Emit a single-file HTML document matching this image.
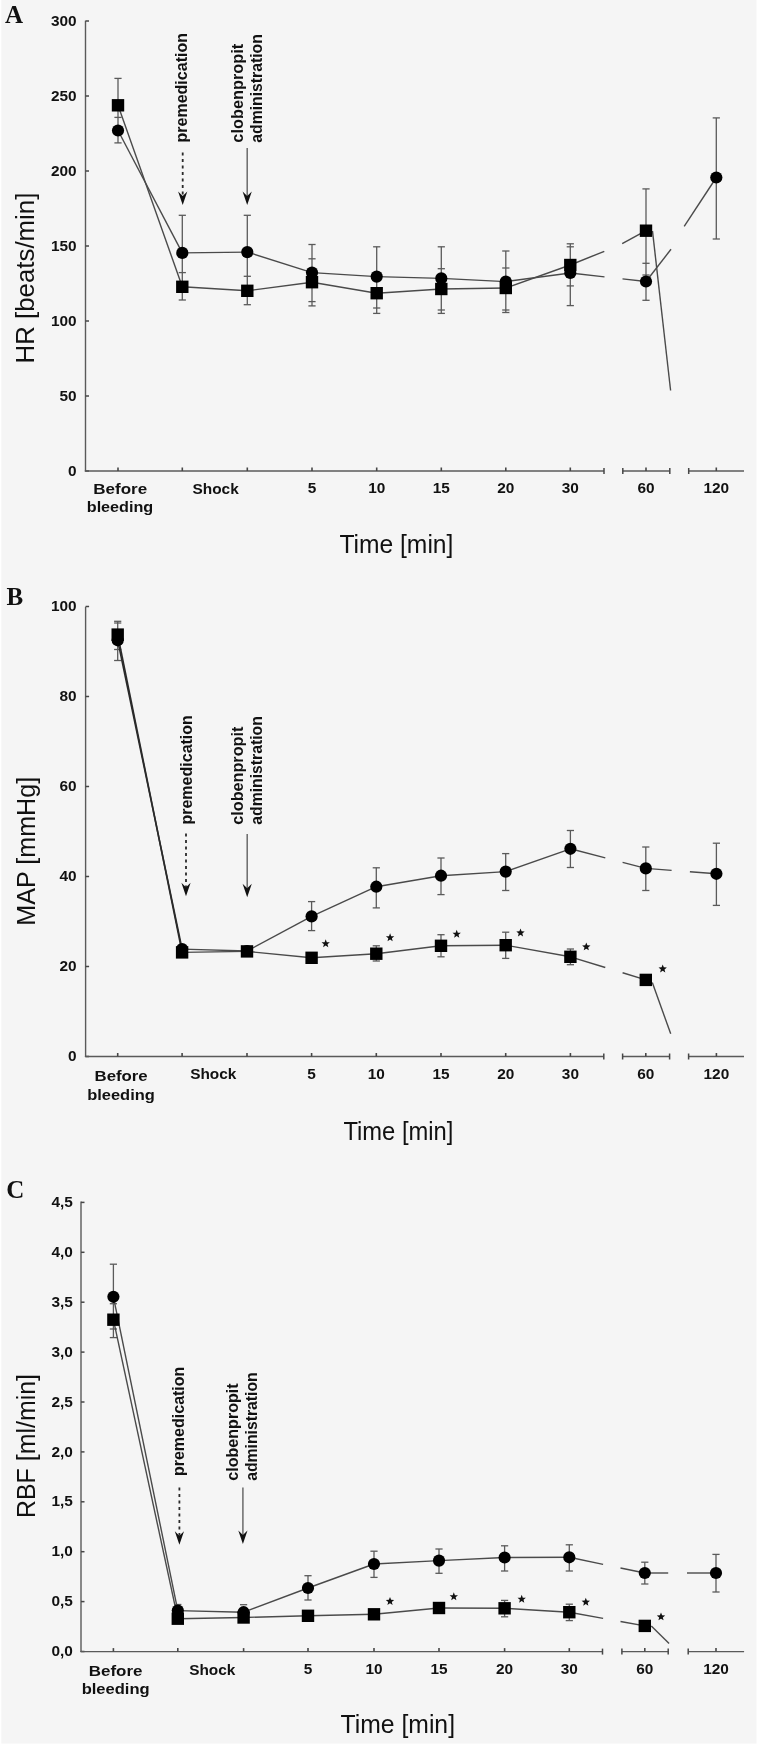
<!DOCTYPE html>
<html><head><meta charset="utf-8"><title>Figure</title>
<style>
html,body{margin:0;padding:0;background:#ffffff;}
body{width:760px;height:1746px;overflow:hidden;}
svg{display:block;will-change:transform;}
.tk{font-family:"Liberation Sans",sans-serif;font-weight:bold;font-size:15.4px;fill:#111111;}
.ttl{font-family:"Liberation Sans",sans-serif;font-size:25px;fill:#111111;}
.ann{font-family:"Liberation Sans",sans-serif;font-weight:bold;font-size:16.6px;fill:#111111;}
.ltr{font-family:"Liberation Serif",serif;font-weight:bold;font-size:25px;fill:#111111;}
.star{font-family:"Liberation Sans",sans-serif;font-weight:bold;font-size:17px;fill:#111111;}
</style></head>
<body>
<svg width="760" height="1746" viewBox="0 0 760 1746">
<rect x="0" y="0" width="760" height="1746" fill="#ffffff"/>
<rect x="1.3" y="0" width="755.2" height="1743.6" fill="#f5f5f5"/>
<line x1="85.50" y1="20.80" x2="85.50" y2="471.50" stroke="#5a5a5a" stroke-width="1.4" />
<line x1="85.50" y1="471.00" x2="89.00" y2="471.00" stroke="#474747" stroke-width="1.5" />
<text x="76.6" y="475.60" text-anchor="end" class="tk">0</text>
<line x1="85.50" y1="396.00" x2="89.00" y2="396.00" stroke="#474747" stroke-width="1.5" />
<text x="76.6" y="400.60" text-anchor="end" class="tk">50</text>
<line x1="85.50" y1="321.00" x2="89.00" y2="321.00" stroke="#474747" stroke-width="1.5" />
<text x="76.6" y="325.60" text-anchor="end" class="tk">100</text>
<line x1="85.50" y1="246.00" x2="89.00" y2="246.00" stroke="#474747" stroke-width="1.5" />
<text x="76.6" y="250.60" text-anchor="end" class="tk">150</text>
<line x1="85.50" y1="171.00" x2="89.00" y2="171.00" stroke="#474747" stroke-width="1.5" />
<text x="76.6" y="175.60" text-anchor="end" class="tk">200</text>
<line x1="85.50" y1="96.00" x2="89.00" y2="96.00" stroke="#474747" stroke-width="1.5" />
<text x="76.6" y="100.60" text-anchor="end" class="tk">250</text>
<line x1="85.50" y1="21.00" x2="89.00" y2="21.00" stroke="#474747" stroke-width="1.5" />
<text x="76.6" y="25.60" text-anchor="end" class="tk">300</text>
<line x1="84.80" y1="471.00" x2="604.00" y2="471.00" stroke="#5a5a5a" stroke-width="1.4" />
<line x1="604.00" y1="468.00" x2="604.00" y2="474.00" stroke="#474747" stroke-width="1.5" />
<line x1="622.80" y1="471.00" x2="669.80" y2="471.00" stroke="#5a5a5a" stroke-width="1.4" />
<line x1="622.80" y1="468.00" x2="622.80" y2="474.00" stroke="#474747" stroke-width="1.5" />
<line x1="669.80" y1="468.00" x2="669.80" y2="474.00" stroke="#474747" stroke-width="1.5" />
<line x1="688.70" y1="471.00" x2="744.00" y2="471.00" stroke="#5a5a5a" stroke-width="1.4" />
<line x1="688.70" y1="468.00" x2="688.70" y2="474.00" stroke="#474747" stroke-width="1.5" />
<line x1="118.00" y1="471.00" x2="118.00" y2="467.50" stroke="#474747" stroke-width="1.6" />
<line x1="182.30" y1="471.00" x2="182.30" y2="467.50" stroke="#474747" stroke-width="1.6" />
<line x1="247.30" y1="471.00" x2="247.30" y2="467.50" stroke="#474747" stroke-width="1.6" />
<line x1="312.00" y1="471.00" x2="312.00" y2="467.50" stroke="#474747" stroke-width="1.6" />
<line x1="376.70" y1="471.00" x2="376.70" y2="467.50" stroke="#474747" stroke-width="1.6" />
<line x1="441.30" y1="471.00" x2="441.30" y2="467.50" stroke="#474747" stroke-width="1.6" />
<line x1="505.80" y1="471.00" x2="505.80" y2="467.50" stroke="#474747" stroke-width="1.6" />
<line x1="570.30" y1="471.00" x2="570.30" y2="467.50" stroke="#474747" stroke-width="1.6" />
<line x1="646.00" y1="471.00" x2="646.00" y2="467.50" stroke="#474747" stroke-width="1.6" />
<line x1="716.30" y1="471.00" x2="716.30" y2="467.50" stroke="#474747" stroke-width="1.6" />
<text x="312.00" y="493.10" text-anchor="middle" class="tk">5</text>
<text x="376.70" y="493.10" text-anchor="middle" class="tk">10</text>
<text x="441.30" y="493.10" text-anchor="middle" class="tk">15</text>
<text x="505.80" y="493.10" text-anchor="middle" class="tk">20</text>
<text x="570.30" y="493.10" text-anchor="middle" class="tk">30</text>
<text x="646.00" y="493.10" text-anchor="middle" class="tk">60</text>
<text x="716.30" y="493.10" text-anchor="middle" class="tk">120</text>
<text x="120.25" y="494.00" text-anchor="middle" class="tk" textLength="53.9" lengthAdjust="spacingAndGlyphs">Before</text>
<text x="120.00" y="512.40" text-anchor="middle" class="tk" textLength="66.5" lengthAdjust="spacingAndGlyphs">bleeding</text>
<text x="215.60" y="493.70" text-anchor="middle" class="tk">Shock</text>
<text x="339.40" y="552.80" class="ttl" textLength="114" lengthAdjust="spacingAndGlyphs">Time [min]</text>
<text transform="translate(34.20,363.50) rotate(-90)" class="ttl" textLength="170.9" lengthAdjust="spacingAndGlyphs">HR [beats/min]</text>
<text x="4.9" y="23.2" class="ltr">A</text>
<text transform="translate(187.40,142.50) rotate(-90)" class="ann" textLength="109.5" lengthAdjust="spacingAndGlyphs">premedication</text>
<text transform="translate(242.50,142.70) rotate(-90)" class="ann" textLength="99" lengthAdjust="spacingAndGlyphs">clobenpropit</text>
<text transform="translate(262.30,142.70) rotate(-90)" class="ann" textLength="108.5" lengthAdjust="spacingAndGlyphs">administration</text>
<line x1="182.70" y1="152.50" x2="182.70" y2="196.00" stroke="#2a2a2a" stroke-width="1.8" stroke-dasharray="3 3.5"/>
<path d="M182.70,205.00 L178.10,191.50 L182.70,196.00 L187.30,191.50 Z" fill="#111"/>
<line x1="247.20" y1="148.00" x2="247.20" y2="196.00" stroke="#6a6a6a" stroke-width="1.5" />
<path d="M247.20,205.00 L242.60,191.50 L247.20,196.00 L251.80,191.50 Z" fill="#111"/>
<line x1="118.00" y1="78.40" x2="118.00" y2="142.90" stroke="#5a5a5a" stroke-width="1.3" />
<line x1="114.40" y1="78.40" x2="121.60" y2="78.40" stroke="#5a5a5a" stroke-width="1.3" />
<line x1="114.40" y1="117.40" x2="121.60" y2="117.40" stroke="#5a5a5a" stroke-width="1.3" />
<line x1="114.40" y1="142.90" x2="121.60" y2="142.90" stroke="#5a5a5a" stroke-width="1.3" />
<line x1="182.30" y1="215.30" x2="182.30" y2="300.00" stroke="#5a5a5a" stroke-width="1.3" />
<line x1="178.70" y1="215.30" x2="185.90" y2="215.30" stroke="#5a5a5a" stroke-width="1.3" />
<line x1="178.70" y1="272.60" x2="185.90" y2="272.60" stroke="#5a5a5a" stroke-width="1.3" />
<line x1="178.70" y1="300.00" x2="185.90" y2="300.00" stroke="#5a5a5a" stroke-width="1.3" />
<line x1="247.30" y1="215.30" x2="247.30" y2="304.70" stroke="#5a5a5a" stroke-width="1.3" />
<line x1="243.70" y1="215.30" x2="250.90" y2="215.30" stroke="#5a5a5a" stroke-width="1.3" />
<line x1="243.70" y1="276.30" x2="250.90" y2="276.30" stroke="#5a5a5a" stroke-width="1.3" />
<line x1="243.70" y1="304.70" x2="250.90" y2="304.70" stroke="#5a5a5a" stroke-width="1.3" />
<line x1="312.00" y1="244.50" x2="312.00" y2="305.90" stroke="#5a5a5a" stroke-width="1.3" />
<line x1="308.40" y1="244.50" x2="315.60" y2="244.50" stroke="#5a5a5a" stroke-width="1.3" />
<line x1="308.40" y1="258.80" x2="315.60" y2="258.80" stroke="#5a5a5a" stroke-width="1.3" />
<line x1="308.40" y1="301.60" x2="315.60" y2="301.60" stroke="#5a5a5a" stroke-width="1.3" />
<line x1="308.40" y1="305.90" x2="315.60" y2="305.90" stroke="#5a5a5a" stroke-width="1.3" />
<line x1="376.70" y1="246.80" x2="376.70" y2="313.40" stroke="#5a5a5a" stroke-width="1.3" />
<line x1="373.10" y1="246.80" x2="380.30" y2="246.80" stroke="#5a5a5a" stroke-width="1.3" />
<line x1="373.10" y1="308.00" x2="380.30" y2="308.00" stroke="#5a5a5a" stroke-width="1.3" />
<line x1="373.10" y1="313.40" x2="380.30" y2="313.40" stroke="#5a5a5a" stroke-width="1.3" />
<line x1="441.30" y1="246.80" x2="441.30" y2="313.40" stroke="#5a5a5a" stroke-width="1.3" />
<line x1="437.70" y1="246.80" x2="444.90" y2="246.80" stroke="#5a5a5a" stroke-width="1.3" />
<line x1="437.70" y1="268.70" x2="444.90" y2="268.70" stroke="#5a5a5a" stroke-width="1.3" />
<line x1="437.70" y1="310.00" x2="444.90" y2="310.00" stroke="#5a5a5a" stroke-width="1.3" />
<line x1="437.70" y1="313.40" x2="444.90" y2="313.40" stroke="#5a5a5a" stroke-width="1.3" />
<line x1="505.80" y1="251.00" x2="505.80" y2="312.50" stroke="#5a5a5a" stroke-width="1.3" />
<line x1="502.20" y1="251.00" x2="509.40" y2="251.00" stroke="#5a5a5a" stroke-width="1.3" />
<line x1="502.20" y1="268.00" x2="509.40" y2="268.00" stroke="#5a5a5a" stroke-width="1.3" />
<line x1="502.20" y1="310.00" x2="509.40" y2="310.00" stroke="#5a5a5a" stroke-width="1.3" />
<line x1="502.20" y1="312.50" x2="509.40" y2="312.50" stroke="#5a5a5a" stroke-width="1.3" />
<line x1="570.30" y1="243.80" x2="570.30" y2="305.60" stroke="#5a5a5a" stroke-width="1.3" />
<line x1="566.70" y1="243.80" x2="573.90" y2="243.80" stroke="#5a5a5a" stroke-width="1.3" />
<line x1="566.70" y1="246.80" x2="573.90" y2="246.80" stroke="#5a5a5a" stroke-width="1.3" />
<line x1="566.70" y1="285.90" x2="573.90" y2="285.90" stroke="#5a5a5a" stroke-width="1.3" />
<line x1="566.70" y1="305.60" x2="573.90" y2="305.60" stroke="#5a5a5a" stroke-width="1.3" />
<line x1="646.00" y1="188.90" x2="646.00" y2="300.30" stroke="#5a5a5a" stroke-width="1.3" />
<line x1="642.40" y1="188.90" x2="649.60" y2="188.90" stroke="#5a5a5a" stroke-width="1.3" />
<line x1="642.40" y1="263.30" x2="649.60" y2="263.30" stroke="#5a5a5a" stroke-width="1.3" />
<line x1="642.40" y1="275.00" x2="649.60" y2="275.00" stroke="#5a5a5a" stroke-width="1.3" />
<line x1="642.40" y1="300.30" x2="649.60" y2="300.30" stroke="#5a5a5a" stroke-width="1.3" />
<line x1="716.30" y1="117.90" x2="716.30" y2="239.00" stroke="#5a5a5a" stroke-width="1.3" />
<line x1="712.70" y1="117.90" x2="719.90" y2="117.90" stroke="#5a5a5a" stroke-width="1.3" />
<line x1="712.70" y1="239.00" x2="719.90" y2="239.00" stroke="#5a5a5a" stroke-width="1.3" />
<line x1="118.00" y1="130.50" x2="182.30" y2="252.90" stroke="#4a4a4a" stroke-width="1.4" stroke-linecap="butt"/>
<line x1="182.30" y1="252.90" x2="247.30" y2="252.10" stroke="#4a4a4a" stroke-width="1.4" stroke-linecap="butt"/>
<line x1="247.30" y1="252.10" x2="312.00" y2="272.60" stroke="#4a4a4a" stroke-width="1.4" stroke-linecap="butt"/>
<line x1="312.00" y1="272.60" x2="376.70" y2="276.60" stroke="#4a4a4a" stroke-width="1.4" stroke-linecap="butt"/>
<line x1="376.70" y1="276.60" x2="441.30" y2="278.40" stroke="#4a4a4a" stroke-width="1.4" stroke-linecap="butt"/>
<line x1="441.30" y1="278.40" x2="505.80" y2="281.60" stroke="#4a4a4a" stroke-width="1.4" stroke-linecap="butt"/>
<line x1="505.80" y1="281.60" x2="570.30" y2="273.00" stroke="#4a4a4a" stroke-width="1.4" stroke-linecap="butt"/>
<line x1="570.30" y1="273.00" x2="604.50" y2="276.84" stroke="#4a4a4a" stroke-width="1.4" stroke-linecap="butt"/>
<line x1="622.50" y1="278.86" x2="646.00" y2="281.50" stroke="#4a4a4a" stroke-width="1.4" stroke-linecap="butt"/>
<line x1="118.00" y1="105.30" x2="182.30" y2="286.80" stroke="#4a4a4a" stroke-width="1.4" stroke-linecap="butt"/>
<line x1="182.30" y1="286.80" x2="247.30" y2="290.80" stroke="#4a4a4a" stroke-width="1.4" stroke-linecap="butt"/>
<line x1="247.30" y1="290.80" x2="312.00" y2="282.20" stroke="#4a4a4a" stroke-width="1.4" stroke-linecap="butt"/>
<line x1="312.00" y1="282.20" x2="376.70" y2="293.20" stroke="#4a4a4a" stroke-width="1.4" stroke-linecap="butt"/>
<line x1="376.70" y1="293.20" x2="441.30" y2="289.00" stroke="#4a4a4a" stroke-width="1.4" stroke-linecap="butt"/>
<line x1="441.30" y1="289.00" x2="505.80" y2="288.00" stroke="#4a4a4a" stroke-width="1.4" stroke-linecap="butt"/>
<line x1="505.80" y1="288.00" x2="570.30" y2="265.00" stroke="#4a4a4a" stroke-width="1.4" stroke-linecap="butt"/>
<line x1="570.30" y1="265.00" x2="604.30" y2="251.30" stroke="#4a4a4a" stroke-width="1.4" />
<line x1="622.20" y1="243.70" x2="646.00" y2="230.70" stroke="#4a4a4a" stroke-width="1.4" />
<line x1="652.50" y1="231.00" x2="670.60" y2="390.50" stroke="#4a4a4a" stroke-width="1.4" />
<line x1="646.00" y1="281.50" x2="671.00" y2="249.30" stroke="#4a4a4a" stroke-width="1.4" />
<line x1="684.20" y1="226.30" x2="716.30" y2="177.50" stroke="#4a4a4a" stroke-width="1.4" />
<circle cx="118.00" cy="130.50" r="6.1" fill="#000000"/>
<circle cx="182.30" cy="252.90" r="6.1" fill="#000000"/>
<circle cx="247.30" cy="252.10" r="6.1" fill="#000000"/>
<circle cx="312.00" cy="272.60" r="6.1" fill="#000000"/>
<circle cx="376.70" cy="276.60" r="6.1" fill="#000000"/>
<circle cx="441.30" cy="278.40" r="6.1" fill="#000000"/>
<circle cx="505.80" cy="281.60" r="6.1" fill="#000000"/>
<circle cx="570.30" cy="273.00" r="6.1" fill="#000000"/>
<circle cx="646.00" cy="281.50" r="6.1" fill="#000000"/>
<circle cx="716.30" cy="177.50" r="6.1" fill="#000000"/>
<rect x="111.80" y="99.10" width="12.4" height="12.4" fill="#000000"/>
<rect x="176.10" y="280.60" width="12.4" height="12.4" fill="#000000"/>
<rect x="241.10" y="284.60" width="12.4" height="12.4" fill="#000000"/>
<rect x="305.80" y="276.00" width="12.4" height="12.4" fill="#000000"/>
<rect x="370.50" y="287.00" width="12.4" height="12.4" fill="#000000"/>
<rect x="435.10" y="282.80" width="12.4" height="12.4" fill="#000000"/>
<rect x="499.60" y="281.80" width="12.4" height="12.4" fill="#000000"/>
<rect x="564.10" y="258.80" width="12.4" height="12.4" fill="#000000"/>
<rect x="639.80" y="224.50" width="12.4" height="12.4" fill="#000000"/>
<line x1="85.60" y1="606.80" x2="85.60" y2="1057.00" stroke="#5a5a5a" stroke-width="1.4" />
<line x1="85.60" y1="1056.50" x2="89.10" y2="1056.50" stroke="#474747" stroke-width="1.5" />
<text x="76.6" y="1061.10" text-anchor="end" class="tk">0</text>
<line x1="85.60" y1="966.50" x2="89.10" y2="966.50" stroke="#474747" stroke-width="1.5" />
<text x="76.6" y="971.10" text-anchor="end" class="tk">20</text>
<line x1="85.60" y1="876.50" x2="89.10" y2="876.50" stroke="#474747" stroke-width="1.5" />
<text x="76.6" y="881.10" text-anchor="end" class="tk">40</text>
<line x1="85.60" y1="786.50" x2="89.10" y2="786.50" stroke="#474747" stroke-width="1.5" />
<text x="76.6" y="791.10" text-anchor="end" class="tk">60</text>
<line x1="85.60" y1="696.50" x2="89.10" y2="696.50" stroke="#474747" stroke-width="1.5" />
<text x="76.6" y="701.10" text-anchor="end" class="tk">80</text>
<line x1="85.60" y1="606.50" x2="89.10" y2="606.50" stroke="#474747" stroke-width="1.5" />
<text x="76.6" y="611.10" text-anchor="end" class="tk">100</text>
<line x1="84.90" y1="1056.50" x2="603.80" y2="1056.50" stroke="#5a5a5a" stroke-width="1.4" />
<line x1="603.80" y1="1053.50" x2="603.80" y2="1059.50" stroke="#474747" stroke-width="1.5" />
<line x1="622.60" y1="1056.50" x2="669.60" y2="1056.50" stroke="#5a5a5a" stroke-width="1.4" />
<line x1="622.60" y1="1053.50" x2="622.60" y2="1059.50" stroke="#474747" stroke-width="1.5" />
<line x1="669.60" y1="1053.50" x2="669.60" y2="1059.50" stroke="#474747" stroke-width="1.5" />
<line x1="688.60" y1="1056.50" x2="744.00" y2="1056.50" stroke="#5a5a5a" stroke-width="1.4" />
<line x1="688.60" y1="1053.50" x2="688.60" y2="1059.50" stroke="#474747" stroke-width="1.5" />
<line x1="117.70" y1="1056.50" x2="117.70" y2="1053.00" stroke="#474747" stroke-width="1.6" />
<line x1="182.10" y1="1056.50" x2="182.10" y2="1053.00" stroke="#474747" stroke-width="1.6" />
<line x1="247.00" y1="1056.50" x2="247.00" y2="1053.00" stroke="#474747" stroke-width="1.6" />
<line x1="311.60" y1="1056.50" x2="311.60" y2="1053.00" stroke="#474747" stroke-width="1.6" />
<line x1="376.30" y1="1056.50" x2="376.30" y2="1053.00" stroke="#474747" stroke-width="1.6" />
<line x1="441.00" y1="1056.50" x2="441.00" y2="1053.00" stroke="#474747" stroke-width="1.6" />
<line x1="505.70" y1="1056.50" x2="505.70" y2="1053.00" stroke="#474747" stroke-width="1.6" />
<line x1="570.40" y1="1056.50" x2="570.40" y2="1053.00" stroke="#474747" stroke-width="1.6" />
<line x1="645.80" y1="1056.50" x2="645.80" y2="1053.00" stroke="#474747" stroke-width="1.6" />
<line x1="716.40" y1="1056.50" x2="716.40" y2="1053.00" stroke="#474747" stroke-width="1.6" />
<text x="311.60" y="1078.90" text-anchor="middle" class="tk">5</text>
<text x="376.30" y="1078.90" text-anchor="middle" class="tk">10</text>
<text x="441.00" y="1078.90" text-anchor="middle" class="tk">15</text>
<text x="505.70" y="1078.90" text-anchor="middle" class="tk">20</text>
<text x="570.40" y="1078.90" text-anchor="middle" class="tk">30</text>
<text x="645.80" y="1078.90" text-anchor="middle" class="tk">60</text>
<text x="716.40" y="1078.90" text-anchor="middle" class="tk">120</text>
<text x="121.10" y="1081.00" text-anchor="middle" class="tk" textLength="53.2" lengthAdjust="spacingAndGlyphs">Before</text>
<text x="121.00" y="1099.50" text-anchor="middle" class="tk" textLength="67.6" lengthAdjust="spacingAndGlyphs">bleeding</text>
<text x="213.30" y="1079.10" text-anchor="middle" class="tk">Shock</text>
<text x="343.40" y="1139.50" class="ttl" textLength="110" lengthAdjust="spacingAndGlyphs">Time [min]</text>
<text transform="translate(35.20,925.80) rotate(-90)" class="ttl" textLength="149" lengthAdjust="spacingAndGlyphs">MAP [mmHg]</text>
<text x="6.5" y="604.7" class="ltr">B</text>
<text transform="translate(191.90,824.60) rotate(-90)" class="ann" textLength="109.5" lengthAdjust="spacingAndGlyphs">premedication</text>
<text transform="translate(242.50,824.70) rotate(-90)" class="ann" textLength="98" lengthAdjust="spacingAndGlyphs">clobenpropit</text>
<text transform="translate(262.30,824.70) rotate(-90)" class="ann" textLength="108.5" lengthAdjust="spacingAndGlyphs">administration</text>
<line x1="186.00" y1="833.50" x2="186.00" y2="887.30" stroke="#2a2a2a" stroke-width="1.8" stroke-dasharray="3 3.5"/>
<path d="M186.00,896.30 L181.40,882.80 L186.00,887.30 L190.60,882.80 Z" fill="#111"/>
<line x1="247.20" y1="834.00" x2="247.20" y2="888.20" stroke="#6a6a6a" stroke-width="1.5" />
<path d="M247.20,897.20 L242.60,883.70 L247.20,888.20 L251.80,883.70 Z" fill="#111"/>
<line x1="117.70" y1="621.30" x2="117.70" y2="660.50" stroke="#5a5a5a" stroke-width="1.3" />
<line x1="114.10" y1="621.30" x2="121.30" y2="621.30" stroke="#5a5a5a" stroke-width="1.3" />
<line x1="114.10" y1="623.00" x2="121.30" y2="623.00" stroke="#5a5a5a" stroke-width="1.3" />
<line x1="114.10" y1="649.50" x2="121.30" y2="649.50" stroke="#5a5a5a" stroke-width="1.3" />
<line x1="114.10" y1="660.50" x2="121.30" y2="660.50" stroke="#5a5a5a" stroke-width="1.3" />
<line x1="182.10" y1="946.00" x2="182.10" y2="955.00" stroke="#5a5a5a" stroke-width="1.3" />
<line x1="178.50" y1="946.00" x2="185.70" y2="946.00" stroke="#5a5a5a" stroke-width="1.3" />
<line x1="178.50" y1="955.00" x2="185.70" y2="955.00" stroke="#5a5a5a" stroke-width="1.3" />
<line x1="247.00" y1="947.00" x2="247.00" y2="955.00" stroke="#5a5a5a" stroke-width="1.3" />
<line x1="243.40" y1="947.00" x2="250.60" y2="947.00" stroke="#5a5a5a" stroke-width="1.3" />
<line x1="243.40" y1="955.00" x2="250.60" y2="955.00" stroke="#5a5a5a" stroke-width="1.3" />
<line x1="311.60" y1="901.60" x2="311.60" y2="930.60" stroke="#5a5a5a" stroke-width="1.3" />
<line x1="308.00" y1="901.60" x2="315.20" y2="901.60" stroke="#5a5a5a" stroke-width="1.3" />
<line x1="308.00" y1="930.60" x2="315.20" y2="930.60" stroke="#5a5a5a" stroke-width="1.3" />
<line x1="376.30" y1="867.80" x2="376.30" y2="907.90" stroke="#5a5a5a" stroke-width="1.3" />
<line x1="372.70" y1="867.80" x2="379.90" y2="867.80" stroke="#5a5a5a" stroke-width="1.3" />
<line x1="372.70" y1="907.90" x2="379.90" y2="907.90" stroke="#5a5a5a" stroke-width="1.3" />
<line x1="376.30" y1="945.80" x2="376.30" y2="961.00" stroke="#5a5a5a" stroke-width="1.3" />
<line x1="372.70" y1="945.80" x2="379.90" y2="945.80" stroke="#5a5a5a" stroke-width="1.3" />
<line x1="372.70" y1="961.00" x2="379.90" y2="961.00" stroke="#5a5a5a" stroke-width="1.3" />
<line x1="441.00" y1="858.00" x2="441.00" y2="894.60" stroke="#5a5a5a" stroke-width="1.3" />
<line x1="437.40" y1="858.00" x2="444.60" y2="858.00" stroke="#5a5a5a" stroke-width="1.3" />
<line x1="437.40" y1="894.60" x2="444.60" y2="894.60" stroke="#5a5a5a" stroke-width="1.3" />
<line x1="441.00" y1="934.70" x2="441.00" y2="956.80" stroke="#5a5a5a" stroke-width="1.3" />
<line x1="437.40" y1="934.70" x2="444.60" y2="934.70" stroke="#5a5a5a" stroke-width="1.3" />
<line x1="437.40" y1="956.80" x2="444.60" y2="956.80" stroke="#5a5a5a" stroke-width="1.3" />
<line x1="505.70" y1="853.60" x2="505.70" y2="890.50" stroke="#5a5a5a" stroke-width="1.3" />
<line x1="502.10" y1="853.60" x2="509.30" y2="853.60" stroke="#5a5a5a" stroke-width="1.3" />
<line x1="502.10" y1="890.50" x2="509.30" y2="890.50" stroke="#5a5a5a" stroke-width="1.3" />
<line x1="505.70" y1="932.20" x2="505.70" y2="958.40" stroke="#5a5a5a" stroke-width="1.3" />
<line x1="502.10" y1="932.20" x2="509.30" y2="932.20" stroke="#5a5a5a" stroke-width="1.3" />
<line x1="502.10" y1="958.40" x2="509.30" y2="958.40" stroke="#5a5a5a" stroke-width="1.3" />
<line x1="570.40" y1="830.50" x2="570.40" y2="867.50" stroke="#5a5a5a" stroke-width="1.3" />
<line x1="566.80" y1="830.50" x2="574.00" y2="830.50" stroke="#5a5a5a" stroke-width="1.3" />
<line x1="566.80" y1="867.50" x2="574.00" y2="867.50" stroke="#5a5a5a" stroke-width="1.3" />
<line x1="570.40" y1="949.00" x2="570.40" y2="964.70" stroke="#5a5a5a" stroke-width="1.3" />
<line x1="566.80" y1="949.00" x2="574.00" y2="949.00" stroke="#5a5a5a" stroke-width="1.3" />
<line x1="566.80" y1="964.70" x2="574.00" y2="964.70" stroke="#5a5a5a" stroke-width="1.3" />
<line x1="645.80" y1="847.00" x2="645.80" y2="890.50" stroke="#5a5a5a" stroke-width="1.3" />
<line x1="642.20" y1="847.00" x2="649.40" y2="847.00" stroke="#5a5a5a" stroke-width="1.3" />
<line x1="642.20" y1="890.50" x2="649.40" y2="890.50" stroke="#5a5a5a" stroke-width="1.3" />
<line x1="716.40" y1="843.20" x2="716.40" y2="905.40" stroke="#5a5a5a" stroke-width="1.3" />
<line x1="712.80" y1="843.20" x2="720.00" y2="843.20" stroke="#5a5a5a" stroke-width="1.3" />
<line x1="712.80" y1="905.40" x2="720.00" y2="905.40" stroke="#5a5a5a" stroke-width="1.3" />
<line x1="117.70" y1="640.30" x2="182.10" y2="949.10" stroke="#2a2a2a" stroke-width="1.6" stroke-linecap="butt"/>
<line x1="182.10" y1="949.10" x2="247.00" y2="951.00" stroke="#4a4a4a" stroke-width="1.4" stroke-linecap="butt"/>
<line x1="247.00" y1="951.00" x2="311.60" y2="916.40" stroke="#4a4a4a" stroke-width="1.4" stroke-linecap="butt"/>
<line x1="311.60" y1="916.40" x2="376.30" y2="886.70" stroke="#4a4a4a" stroke-width="1.4" stroke-linecap="butt"/>
<line x1="376.30" y1="886.70" x2="441.00" y2="875.70" stroke="#4a4a4a" stroke-width="1.4" stroke-linecap="butt"/>
<line x1="441.00" y1="875.70" x2="505.70" y2="871.60" stroke="#4a4a4a" stroke-width="1.4" stroke-linecap="butt"/>
<line x1="505.70" y1="871.60" x2="570.40" y2="848.80" stroke="#4a4a4a" stroke-width="1.4" stroke-linecap="butt"/>
<line x1="570.40" y1="848.80" x2="605.30" y2="857.87" stroke="#4a4a4a" stroke-width="1.4" stroke-linecap="butt"/>
<line x1="622.60" y1="862.37" x2="645.80" y2="868.40" stroke="#4a4a4a" stroke-width="1.4" stroke-linecap="butt"/>
<line x1="645.80" y1="868.40" x2="671.60" y2="870.37" stroke="#4a4a4a" stroke-width="1.4" stroke-linecap="butt"/>
<line x1="689.90" y1="871.77" x2="716.40" y2="873.80" stroke="#4a4a4a" stroke-width="1.4" stroke-linecap="butt"/>
<line x1="117.70" y1="634.60" x2="182.10" y2="952.40" stroke="#2a2a2a" stroke-width="1.6" stroke-linecap="butt"/>
<line x1="182.10" y1="952.40" x2="247.00" y2="951.40" stroke="#4a4a4a" stroke-width="1.4" stroke-linecap="butt"/>
<line x1="247.00" y1="951.40" x2="311.60" y2="957.80" stroke="#4a4a4a" stroke-width="1.4" stroke-linecap="butt"/>
<line x1="311.60" y1="957.80" x2="376.30" y2="953.70" stroke="#4a4a4a" stroke-width="1.4" stroke-linecap="butt"/>
<line x1="376.30" y1="953.70" x2="441.00" y2="945.80" stroke="#4a4a4a" stroke-width="1.4" stroke-linecap="butt"/>
<line x1="441.00" y1="945.80" x2="505.70" y2="945.20" stroke="#4a4a4a" stroke-width="1.4" stroke-linecap="butt"/>
<line x1="505.70" y1="945.20" x2="570.40" y2="956.80" stroke="#4a4a4a" stroke-width="1.4" stroke-linecap="butt"/>
<line x1="570.40" y1="956.80" x2="605.30" y2="967.49" stroke="#4a4a4a" stroke-width="1.4" stroke-linecap="butt"/>
<line x1="622.60" y1="972.79" x2="645.80" y2="979.90" stroke="#4a4a4a" stroke-width="1.4" stroke-linecap="butt"/>
<line x1="652.30" y1="982.50" x2="670.70" y2="1033.80" stroke="#4a4a4a" stroke-width="1.4" />
<circle cx="117.70" cy="640.30" r="6.1" fill="#000000"/>
<circle cx="182.10" cy="949.10" r="6.1" fill="#000000"/>
<circle cx="247.00" cy="951.00" r="6.1" fill="#000000"/>
<circle cx="311.60" cy="916.40" r="6.1" fill="#000000"/>
<circle cx="376.30" cy="886.70" r="6.1" fill="#000000"/>
<circle cx="441.00" cy="875.70" r="6.1" fill="#000000"/>
<circle cx="505.70" cy="871.60" r="6.1" fill="#000000"/>
<circle cx="570.40" cy="848.80" r="6.1" fill="#000000"/>
<circle cx="645.80" cy="868.40" r="6.1" fill="#000000"/>
<circle cx="716.40" cy="873.80" r="6.1" fill="#000000"/>
<rect x="111.50" y="628.40" width="12.4" height="12.4" fill="#000000"/>
<rect x="175.90" y="946.20" width="12.4" height="12.4" fill="#000000"/>
<rect x="240.80" y="945.20" width="12.4" height="12.4" fill="#000000"/>
<rect x="305.40" y="951.60" width="12.4" height="12.4" fill="#000000"/>
<rect x="370.10" y="947.50" width="12.4" height="12.4" fill="#000000"/>
<rect x="434.80" y="939.60" width="12.4" height="12.4" fill="#000000"/>
<rect x="499.50" y="939.00" width="12.4" height="12.4" fill="#000000"/>
<rect x="564.20" y="950.60" width="12.4" height="12.4" fill="#000000"/>
<rect x="639.60" y="973.70" width="12.4" height="12.4" fill="#000000"/>
<polygon points="325.70,939.30 326.82,942.16 329.88,942.34 327.51,944.29 328.29,947.26 325.70,945.60 323.11,947.26 323.89,944.29 321.52,942.34 324.58,942.16" fill="#111"/>
<polygon points="390.10,933.30 391.22,936.16 394.28,936.34 391.91,938.29 392.69,941.26 390.10,939.60 387.51,941.26 388.29,938.29 385.92,936.34 388.98,936.16" fill="#111"/>
<polygon points="456.70,929.80 457.82,932.66 460.88,932.84 458.51,934.79 459.29,937.76 456.70,936.10 454.11,937.76 454.89,934.79 452.52,932.84 455.58,932.66" fill="#111"/>
<polygon points="520.50,928.50 521.62,931.36 524.68,931.54 522.31,933.49 523.09,936.46 520.50,934.80 517.91,936.46 518.69,933.49 516.32,931.54 519.38,931.36" fill="#111"/>
<polygon points="586.30,942.40 587.42,945.26 590.48,945.44 588.11,947.39 588.89,950.36 586.30,948.70 583.71,950.36 584.49,947.39 582.12,945.44 585.18,945.26" fill="#111"/>
<polygon points="662.70,964.50 663.82,967.36 666.88,967.54 664.51,969.49 665.29,972.46 662.70,970.80 660.11,972.46 660.89,969.49 658.52,967.54 661.58,967.36" fill="#111"/>
<line x1="81.00" y1="1201.60" x2="81.00" y2="1652.10" stroke="#5a5a5a" stroke-width="1.4" />
<line x1="81.00" y1="1651.50" x2="84.50" y2="1651.50" stroke="#474747" stroke-width="1.5" />
<text x="72.8" y="1656.10" text-anchor="end" class="tk">0,0</text>
<line x1="81.00" y1="1601.60" x2="84.50" y2="1601.60" stroke="#474747" stroke-width="1.5" />
<text x="72.8" y="1606.20" text-anchor="end" class="tk">0,5</text>
<line x1="81.00" y1="1551.70" x2="84.50" y2="1551.70" stroke="#474747" stroke-width="1.5" />
<text x="72.8" y="1556.30" text-anchor="end" class="tk">1,0</text>
<line x1="81.00" y1="1501.80" x2="84.50" y2="1501.80" stroke="#474747" stroke-width="1.5" />
<text x="72.8" y="1506.40" text-anchor="end" class="tk">1,5</text>
<line x1="81.00" y1="1451.90" x2="84.50" y2="1451.90" stroke="#474747" stroke-width="1.5" />
<text x="72.8" y="1456.50" text-anchor="end" class="tk">2,0</text>
<line x1="81.00" y1="1402.00" x2="84.50" y2="1402.00" stroke="#474747" stroke-width="1.5" />
<text x="72.8" y="1406.60" text-anchor="end" class="tk">2,5</text>
<line x1="81.00" y1="1352.10" x2="84.50" y2="1352.10" stroke="#474747" stroke-width="1.5" />
<text x="72.8" y="1356.70" text-anchor="end" class="tk">3,0</text>
<line x1="81.00" y1="1302.20" x2="84.50" y2="1302.20" stroke="#474747" stroke-width="1.5" />
<text x="72.8" y="1306.80" text-anchor="end" class="tk">3,5</text>
<line x1="81.00" y1="1252.30" x2="84.50" y2="1252.30" stroke="#474747" stroke-width="1.5" />
<text x="72.8" y="1256.90" text-anchor="end" class="tk">4,0</text>
<line x1="81.00" y1="1202.40" x2="84.50" y2="1202.40" stroke="#474747" stroke-width="1.5" />
<text x="72.8" y="1207.00" text-anchor="end" class="tk">4,5</text>
<line x1="80.30" y1="1651.60" x2="602.50" y2="1651.60" stroke="#5a5a5a" stroke-width="1.4" />
<line x1="602.50" y1="1648.60" x2="602.50" y2="1654.60" stroke="#474747" stroke-width="1.5" />
<line x1="621.90" y1="1651.60" x2="668.20" y2="1651.60" stroke="#5a5a5a" stroke-width="1.4" />
<line x1="621.90" y1="1648.60" x2="621.90" y2="1654.60" stroke="#474747" stroke-width="1.5" />
<line x1="668.20" y1="1648.60" x2="668.20" y2="1654.60" stroke="#474747" stroke-width="1.5" />
<line x1="688.20" y1="1651.60" x2="744.10" y2="1651.60" stroke="#5a5a5a" stroke-width="1.4" />
<line x1="688.20" y1="1648.60" x2="688.20" y2="1654.60" stroke="#474747" stroke-width="1.5" />
<line x1="113.40" y1="1651.60" x2="113.40" y2="1648.10" stroke="#474747" stroke-width="1.6" />
<line x1="177.80" y1="1651.60" x2="177.80" y2="1648.10" stroke="#474747" stroke-width="1.6" />
<line x1="243.60" y1="1651.60" x2="243.60" y2="1648.10" stroke="#474747" stroke-width="1.6" />
<line x1="308.00" y1="1651.60" x2="308.00" y2="1648.10" stroke="#474747" stroke-width="1.6" />
<line x1="374.00" y1="1651.60" x2="374.00" y2="1648.10" stroke="#474747" stroke-width="1.6" />
<line x1="439.00" y1="1651.60" x2="439.00" y2="1648.10" stroke="#474747" stroke-width="1.6" />
<line x1="504.60" y1="1651.60" x2="504.60" y2="1648.10" stroke="#474747" stroke-width="1.6" />
<line x1="569.30" y1="1651.60" x2="569.30" y2="1648.10" stroke="#474747" stroke-width="1.6" />
<line x1="644.80" y1="1651.60" x2="644.80" y2="1648.10" stroke="#474747" stroke-width="1.6" />
<line x1="716.00" y1="1651.60" x2="716.00" y2="1648.10" stroke="#474747" stroke-width="1.6" />
<text x="308.00" y="1673.90" text-anchor="middle" class="tk">5</text>
<text x="374.00" y="1673.90" text-anchor="middle" class="tk">10</text>
<text x="439.00" y="1673.90" text-anchor="middle" class="tk">15</text>
<text x="504.60" y="1673.90" text-anchor="middle" class="tk">20</text>
<text x="569.30" y="1673.90" text-anchor="middle" class="tk">30</text>
<text x="644.80" y="1673.90" text-anchor="middle" class="tk">60</text>
<text x="716.00" y="1673.90" text-anchor="middle" class="tk">120</text>
<text x="115.65" y="1675.50" text-anchor="middle" class="tk" textLength="53.7" lengthAdjust="spacingAndGlyphs">Before</text>
<text x="115.65" y="1694.40" text-anchor="middle" class="tk" textLength="68" lengthAdjust="spacingAndGlyphs">bleeding</text>
<text x="212.30" y="1675.30" text-anchor="middle" class="tk">Shock</text>
<text x="340.50" y="1733.20" class="ttl" textLength="114.5" lengthAdjust="spacingAndGlyphs">Time [min]</text>
<text transform="translate(34.60,1518.00) rotate(-90)" class="ttl" textLength="144" lengthAdjust="spacingAndGlyphs">RBF [ml/min]</text>
<text x="6.2" y="1197.8" class="ltr">C</text>
<text transform="translate(184.30,1476.10) rotate(-90)" class="ann" textLength="109.5" lengthAdjust="spacingAndGlyphs">premedication</text>
<text transform="translate(237.80,1480.80) rotate(-90)" class="ann" textLength="97.5" lengthAdjust="spacingAndGlyphs">clobenpropit</text>
<text transform="translate(257.40,1480.80) rotate(-90)" class="ann" textLength="108.5" lengthAdjust="spacingAndGlyphs">administration</text>
<line x1="179.40" y1="1487.40" x2="179.40" y2="1535.70" stroke="#2a2a2a" stroke-width="1.8" stroke-dasharray="3 3.5"/>
<path d="M179.40,1544.70 L174.80,1531.20 L179.40,1535.70 L184.00,1531.20 Z" fill="#111"/>
<line x1="242.90" y1="1487.40" x2="242.90" y2="1535.00" stroke="#6a6a6a" stroke-width="1.5" />
<path d="M242.90,1544.00 L238.30,1530.50 L242.90,1535.00 L247.50,1530.50 Z" fill="#111"/>
<line x1="113.40" y1="1264.20" x2="113.40" y2="1337.60" stroke="#5a5a5a" stroke-width="1.3" />
<line x1="109.80" y1="1264.20" x2="117.00" y2="1264.20" stroke="#5a5a5a" stroke-width="1.3" />
<line x1="109.80" y1="1303.70" x2="117.00" y2="1303.70" stroke="#5a5a5a" stroke-width="1.3" />
<line x1="109.80" y1="1329.00" x2="117.00" y2="1329.00" stroke="#5a5a5a" stroke-width="1.3" />
<line x1="109.80" y1="1337.60" x2="117.00" y2="1337.60" stroke="#5a5a5a" stroke-width="1.3" />
<line x1="177.80" y1="1604.50" x2="177.80" y2="1604.50" stroke="#5a5a5a" stroke-width="1.3" />
<line x1="174.20" y1="1604.50" x2="181.40" y2="1604.50" stroke="#5a5a5a" stroke-width="1.3" />
<line x1="243.60" y1="1604.70" x2="243.60" y2="1604.70" stroke="#5a5a5a" stroke-width="1.3" />
<line x1="240.00" y1="1604.70" x2="247.20" y2="1604.70" stroke="#5a5a5a" stroke-width="1.3" />
<line x1="308.00" y1="1575.70" x2="308.00" y2="1600.00" stroke="#5a5a5a" stroke-width="1.3" />
<line x1="304.40" y1="1575.70" x2="311.60" y2="1575.70" stroke="#5a5a5a" stroke-width="1.3" />
<line x1="304.40" y1="1600.00" x2="311.60" y2="1600.00" stroke="#5a5a5a" stroke-width="1.3" />
<line x1="374.00" y1="1551.20" x2="374.00" y2="1577.40" stroke="#5a5a5a" stroke-width="1.3" />
<line x1="370.40" y1="1551.20" x2="377.60" y2="1551.20" stroke="#5a5a5a" stroke-width="1.3" />
<line x1="370.40" y1="1577.40" x2="377.60" y2="1577.40" stroke="#5a5a5a" stroke-width="1.3" />
<line x1="439.00" y1="1549.00" x2="439.00" y2="1573.30" stroke="#5a5a5a" stroke-width="1.3" />
<line x1="435.40" y1="1549.00" x2="442.60" y2="1549.00" stroke="#5a5a5a" stroke-width="1.3" />
<line x1="435.40" y1="1573.30" x2="442.60" y2="1573.30" stroke="#5a5a5a" stroke-width="1.3" />
<line x1="504.60" y1="1545.80" x2="504.60" y2="1571.00" stroke="#5a5a5a" stroke-width="1.3" />
<line x1="501.00" y1="1545.80" x2="508.20" y2="1545.80" stroke="#5a5a5a" stroke-width="1.3" />
<line x1="501.00" y1="1571.00" x2="508.20" y2="1571.00" stroke="#5a5a5a" stroke-width="1.3" />
<line x1="504.60" y1="1600.40" x2="504.60" y2="1616.80" stroke="#5a5a5a" stroke-width="1.3" />
<line x1="501.00" y1="1600.40" x2="508.20" y2="1600.40" stroke="#5a5a5a" stroke-width="1.3" />
<line x1="501.00" y1="1616.80" x2="508.20" y2="1616.80" stroke="#5a5a5a" stroke-width="1.3" />
<line x1="569.30" y1="1544.80" x2="569.30" y2="1571.00" stroke="#5a5a5a" stroke-width="1.3" />
<line x1="565.70" y1="1544.80" x2="572.90" y2="1544.80" stroke="#5a5a5a" stroke-width="1.3" />
<line x1="565.70" y1="1571.00" x2="572.90" y2="1571.00" stroke="#5a5a5a" stroke-width="1.3" />
<line x1="569.30" y1="1604.20" x2="569.30" y2="1620.60" stroke="#5a5a5a" stroke-width="1.3" />
<line x1="565.70" y1="1604.20" x2="572.90" y2="1604.20" stroke="#5a5a5a" stroke-width="1.3" />
<line x1="565.70" y1="1620.60" x2="572.90" y2="1620.60" stroke="#5a5a5a" stroke-width="1.3" />
<line x1="644.80" y1="1562.20" x2="644.80" y2="1584.00" stroke="#5a5a5a" stroke-width="1.3" />
<line x1="641.20" y1="1562.20" x2="648.40" y2="1562.20" stroke="#5a5a5a" stroke-width="1.3" />
<line x1="641.20" y1="1584.00" x2="648.40" y2="1584.00" stroke="#5a5a5a" stroke-width="1.3" />
<line x1="716.00" y1="1554.40" x2="716.00" y2="1592.00" stroke="#5a5a5a" stroke-width="1.3" />
<line x1="712.40" y1="1554.40" x2="719.60" y2="1554.40" stroke="#5a5a5a" stroke-width="1.3" />
<line x1="712.40" y1="1592.00" x2="719.60" y2="1592.00" stroke="#5a5a5a" stroke-width="1.3" />
<line x1="113.40" y1="1296.80" x2="177.80" y2="1610.60" stroke="#4a4a4a" stroke-width="1.4" stroke-linecap="butt"/>
<line x1="177.80" y1="1610.60" x2="243.60" y2="1612.20" stroke="#4a4a4a" stroke-width="1.4" stroke-linecap="butt"/>
<line x1="243.60" y1="1612.20" x2="308.00" y2="1588.00" stroke="#4a4a4a" stroke-width="1.4" stroke-linecap="butt"/>
<line x1="308.00" y1="1588.00" x2="374.00" y2="1564.00" stroke="#4a4a4a" stroke-width="1.4" stroke-linecap="butt"/>
<line x1="374.00" y1="1564.00" x2="439.00" y2="1560.60" stroke="#4a4a4a" stroke-width="1.4" stroke-linecap="butt"/>
<line x1="439.00" y1="1560.60" x2="504.60" y2="1557.50" stroke="#4a4a4a" stroke-width="1.4" stroke-linecap="butt"/>
<line x1="504.60" y1="1557.50" x2="569.30" y2="1557.30" stroke="#4a4a4a" stroke-width="1.4" stroke-linecap="butt"/>
<line x1="569.30" y1="1557.30" x2="603.10" y2="1564.33" stroke="#4a4a4a" stroke-width="1.4" stroke-linecap="butt"/>
<line x1="620.50" y1="1567.95" x2="644.80" y2="1573.00" stroke="#4a4a4a" stroke-width="1.4" stroke-linecap="butt"/>
<line x1="644.80" y1="1573.00" x2="668.20" y2="1573.00" stroke="#4a4a4a" stroke-width="1.4" stroke-linecap="butt"/>
<line x1="687.00" y1="1573.00" x2="716.00" y2="1573.00" stroke="#4a4a4a" stroke-width="1.4" stroke-linecap="butt"/>
<line x1="113.40" y1="1319.70" x2="177.80" y2="1618.70" stroke="#4a4a4a" stroke-width="1.4" stroke-linecap="butt"/>
<line x1="177.80" y1="1618.70" x2="243.60" y2="1617.50" stroke="#4a4a4a" stroke-width="1.4" stroke-linecap="butt"/>
<line x1="243.60" y1="1617.50" x2="308.00" y2="1615.80" stroke="#4a4a4a" stroke-width="1.4" stroke-linecap="butt"/>
<line x1="308.00" y1="1615.80" x2="374.00" y2="1614.30" stroke="#4a4a4a" stroke-width="1.4" stroke-linecap="butt"/>
<line x1="374.00" y1="1614.30" x2="439.00" y2="1608.00" stroke="#4a4a4a" stroke-width="1.4" stroke-linecap="butt"/>
<line x1="439.00" y1="1608.00" x2="504.60" y2="1608.30" stroke="#4a4a4a" stroke-width="1.4" stroke-linecap="butt"/>
<line x1="504.60" y1="1608.30" x2="569.30" y2="1612.20" stroke="#4a4a4a" stroke-width="1.4" stroke-linecap="butt"/>
<line x1="569.30" y1="1612.20" x2="603.10" y2="1618.33" stroke="#4a4a4a" stroke-width="1.4" stroke-linecap="butt"/>
<line x1="620.50" y1="1621.49" x2="644.80" y2="1625.90" stroke="#4a4a4a" stroke-width="1.4" stroke-linecap="butt"/>
<line x1="651.30" y1="1626.00" x2="669.10" y2="1643.40" stroke="#4a4a4a" stroke-width="1.4" />
<circle cx="113.40" cy="1296.80" r="6.1" fill="#000000"/>
<circle cx="177.80" cy="1610.60" r="6.1" fill="#000000"/>
<circle cx="243.60" cy="1612.20" r="6.1" fill="#000000"/>
<circle cx="308.00" cy="1588.00" r="6.1" fill="#000000"/>
<circle cx="374.00" cy="1564.00" r="6.1" fill="#000000"/>
<circle cx="439.00" cy="1560.60" r="6.1" fill="#000000"/>
<circle cx="504.60" cy="1557.50" r="6.1" fill="#000000"/>
<circle cx="569.30" cy="1557.30" r="6.1" fill="#000000"/>
<circle cx="644.80" cy="1573.00" r="6.1" fill="#000000"/>
<circle cx="716.00" cy="1573.00" r="6.1" fill="#000000"/>
<rect x="107.20" y="1313.50" width="12.4" height="12.4" fill="#000000"/>
<rect x="171.60" y="1612.50" width="12.4" height="12.4" fill="#000000"/>
<rect x="237.40" y="1611.30" width="12.4" height="12.4" fill="#000000"/>
<rect x="301.80" y="1609.60" width="12.4" height="12.4" fill="#000000"/>
<rect x="367.80" y="1608.10" width="12.4" height="12.4" fill="#000000"/>
<rect x="432.80" y="1601.80" width="12.4" height="12.4" fill="#000000"/>
<rect x="498.40" y="1602.10" width="12.4" height="12.4" fill="#000000"/>
<rect x="563.10" y="1606.00" width="12.4" height="12.4" fill="#000000"/>
<rect x="638.60" y="1619.70" width="12.4" height="12.4" fill="#000000"/>
<polygon points="390.00,1597.00 391.12,1599.86 394.18,1600.04 391.81,1601.99 392.59,1604.96 390.00,1603.30 387.41,1604.96 388.19,1601.99 385.82,1600.04 388.88,1599.86" fill="#111"/>
<polygon points="453.80,1592.30 454.92,1595.16 457.98,1595.34 455.61,1597.29 456.39,1600.26 453.80,1598.60 451.21,1600.26 451.99,1597.29 449.62,1595.34 452.68,1595.16" fill="#111"/>
<polygon points="521.70,1594.80 522.82,1597.66 525.88,1597.84 523.51,1599.79 524.29,1602.76 521.70,1601.10 519.11,1602.76 519.89,1599.79 517.52,1597.84 520.58,1597.66" fill="#111"/>
<polygon points="585.80,1597.70 586.92,1600.56 589.98,1600.74 587.61,1602.69 588.39,1605.66 585.80,1604.00 583.21,1605.66 583.99,1602.69 581.62,1600.74 584.68,1600.56" fill="#111"/>
<polygon points="661.00,1612.40 662.12,1615.26 665.18,1615.44 662.81,1617.39 663.59,1620.36 661.00,1618.70 658.41,1620.36 659.19,1617.39 656.82,1615.44 659.88,1615.26" fill="#111"/>
</svg>
</body></html>
